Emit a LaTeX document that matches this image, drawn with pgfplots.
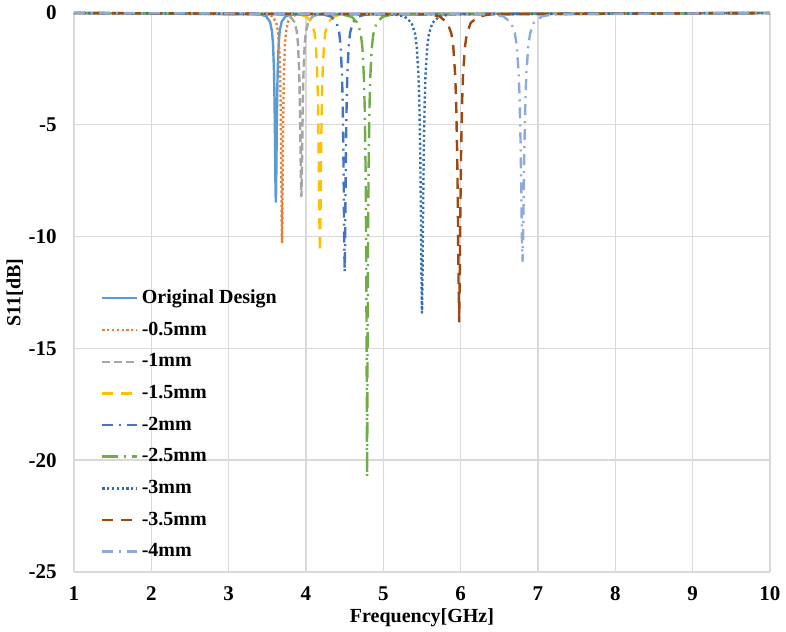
\documentclass[border=0pt]{standalone}
\usepackage{fontspec}
\setmainfont{Liberation Serif}
\usepackage{pgfplots}
\pgfplotsset{compat=1.18}
\definecolor{c1}{HTML}{5B9BD5}
\definecolor{c2}{HTML}{ED7D31}
\definecolor{c3}{HTML}{A5A5A5}
\definecolor{c4}{HTML}{FFC000}
\definecolor{c5}{HTML}{4472C4}
\definecolor{c6}{HTML}{70AD47}
\definecolor{c7}{HTML}{2E6DAE}
\definecolor{c8}{HTML}{9E480E}
\definecolor{c9}{HTML}{8EAADB}
\begin{document}
\begin{tikzpicture}
\path[use as bounding box] (-37pt,-29.5pt) rectangle (356pt,286pt);
\begin{axis}[
  scale only axis, width=348pt, height=279.5pt,
  xmin=1, xmax=10, ymin=-25, ymax=0,
  xtick={1,2,...,10}, ytick={-25,-20,-15,-10,-5,0},
  grid=major, major grid style={draw=black!15, line width=0.7pt},
  axis line style={draw=none}, tick style={draw=none},
  clip=false,
  /pgf/number format/assume math mode=true,
  tick label style={font=\bfseries\fontsize{10.5}{12}\selectfont},
  xticklabel style={anchor=north, inner sep=0pt, yshift=-7pt},
  yticklabel style={anchor=east, inner sep=0pt, xshift=-8.5pt},
  every axis x label/.style={at={(axis description cs:0.5,-0.082)}, anchor=center},
  every axis y label/.style={at={(axis description cs:-0.085,0.5)}, rotate=90, anchor=center},
  label style={font=\bfseries\fontsize{10}{12}\selectfont},
  xlabel={Frequency[GHz]}, ylabel={S11[dB]},
  legend cell align=left,
  legend style={at={(axis cs:1.27,-12.0)}, anchor=north west, draw=none, fill=none,
    font=\bfseries\fontsize{10}{12}\selectfont, row sep=3.7pt},
  every axis plot/.append style={line width=1.2pt, line join=round},
]
\addplot[c1, solid] coordinates {(1,0) (3.41,-0.06) (3.485,-0.15) (3.535,-0.39) (3.56,-0.82) (3.5725,-1.33) (3.585,-2.43) (3.591,-3.45) (3.5975,-5.03) (3.6025,-6.70) (3.606,-7.91) (3.61,-8.45) (3.614,-7.91) (3.6175,-6.70) (3.6225,-5.03) (3.629,-3.45) (3.635,-2.43) (3.6475,-1.33) (3.66,-0.82) (3.685,-0.39) (3.735,-0.15) (3.81,-0.06) (10,0)};
\addlegendentry{Original Design}
\addplot[c2, dash pattern=on 1.1pt off 1.3pt] coordinates {(1,0) (3.49,-0.06) (3.565,-0.15) (3.615,-0.41) (3.64,-0.87) (3.6525,-1.42) (3.665,-2.62) (3.671,-3.77) (3.6775,-5.61) (3.6825,-7.74) (3.686,-9.46) (3.69,-10.3) (3.694,-9.46) (3.6975,-7.74) (3.7025,-5.61) (3.709,-3.77) (3.715,-2.62) (3.7275,-1.42) (3.74,-0.87) (3.765,-0.41) (3.815,-0.15) (3.89,-0.06) (10,0)};
\addlegendentry{-0.5mm}
\addplot[c3, dash pattern=on 4pt off 2pt] coordinates {(1,0) (3.70,-0.06) (3.79,-0.14) (3.85,-0.39) (3.88,-0.81) (3.895,-1.31) (3.91,-2.40) (3.9175,-3.40) (3.925,-4.93) (3.931,-6.55) (3.9355,-7.69) (3.94,-8.2) (3.9445,-7.69) (3.949,-6.55) (3.955,-4.93) (3.9625,-3.40) (3.97,-2.40) (3.985,-1.31) (4.00,-0.81) (4.03,-0.39) (4.09,-0.14) (4.18,-0.06) (10,0)};
\addlegendentry{-1mm}
\addplot[c4, dash pattern=on 5.5pt off 4pt] coordinates {(1,0) (3.90,-0.06) (4.005,-0.16) (4.075,-0.42) (4.11,-0.88) (4.1275,-1.44) (4.145,-2.66) (4.154,-3.82) (4.1625,-5.72) (4.1695,-7.94) (4.175,-9.78) (4.18,-10.7) (4.185,-9.78) (4.1905,-7.94) (4.1975,-5.72) (4.206,-3.82) (4.215,-2.66) (4.2325,-1.44) (4.25,-0.88) (4.285,-0.42) (4.355,-0.16) (4.46,-0.06) (10,0)};
\addlegendentry{-1.5mm}
\addplot[c5, dash pattern=on 5.5pt off 3pt on 1pt off 3pt] coordinates {(1,0) (4.22,-0.06) (4.325,-0.16) (4.395,-0.42) (4.43,-0.89) (4.4475,-1.47) (4.465,-2.72) (4.474,-3.93) (4.4825,-5.93) (4.4895,-8.35) (4.495,-10.47) (4.50,-11.6) (4.505,-10.47) (4.5105,-8.35) (4.5175,-5.93) (4.526,-3.93) (4.535,-2.72) (4.5525,-1.47) (4.57,-0.89) (4.605,-0.42) (4.675,-0.16) (4.78,-0.06) (10,0)};
\addlegendentry{-2mm}
\addplot[c6, dash pattern=on 8pt off 3pt on 1pt off 3pt] coordinates {(1,0) (4.47,-0.07) (4.59,-0.17) (4.67,-0.45) (4.71,-0.96) (4.73,-1.58) (4.75,-2.97) (4.76,-4.37) (4.77,-6.85) (4.778,-10.44) (4.784,-15.20) (4.786,-17.40) (4.788,-19.63) (4.79,-20.75) (4.792,-19.63) (4.794,-17.40) (4.796,-15.20) (4.802,-10.44) (4.81,-6.85) (4.82,-4.37) (4.83,-2.97) (4.85,-1.58) (4.87,-0.96) (4.91,-0.45) (4.99,-0.17) (5.11,-0.07) (10,0)};
\addlegendentry{-2.5mm}
\addplot[c7, dash pattern=on 1.1pt off 1.3pt] coordinates {(1,0) (5.14,-0.06) (5.275,-0.16) (5.365,-0.44) (5.41,-0.92) (5.4325,-1.51) (5.455,-2.82) (5.466,-4.10) (5.4775,-6.26) (5.4865,-9.05) (5.493,-11.76) (5.50,-13.4) (5.507,-11.76) (5.5135,-9.05) (5.5225,-6.26) (5.534,-4.10) (5.545,-2.82) (5.5675,-1.51) (5.59,-0.92) (5.635,-0.44) (5.725,-0.16) (5.86,-0.06) (10,0)};
\addlegendentry{-3mm}
\addplot[c8, dash pattern=on 5.5pt off 4pt] coordinates {(1,0) (5.58,-0.06) (5.73,-0.16) (5.83,-0.44) (5.88,-0.92) (5.905,-1.52) (5.93,-2.83) (5.9425,-4.13) (5.955,-6.32) (5.965,-9.18) (5.9725,-12.02) (5.98,-13.8) (5.9875,-12.02) (5.995,-9.18) (6.005,-6.32) (6.0175,-4.13) (6.03,-2.83) (6.055,-1.52) (6.08,-0.92) (6.13,-0.44) (6.23,-0.16) (6.38,-0.06) (10,0)};
\addlegendentry{-3.5mm}
\addplot[c9, dash pattern=on 5.5pt off 3pt on 1pt off 3pt] coordinates {(1,0) (6.40,-0.06) (6.55,-0.15) (6.65,-0.42) (6.70,-0.89) (6.725,-1.45) (6.75,-2.69) (6.7625,-3.88) (6.775,-5.82) (6.785,-8.13) (6.7925,-10.09) (6.80,-11.1) (6.8075,-10.09) (6.815,-8.13) (6.825,-5.82) (6.8375,-3.88) (6.85,-2.69) (6.875,-1.45) (6.90,-0.89) (6.95,-0.42) (7.05,-0.15) (7.20,-0.06) (10,0)};
\addlegendentry{-4mm}
\end{axis}
\end{tikzpicture}
\end{document}
